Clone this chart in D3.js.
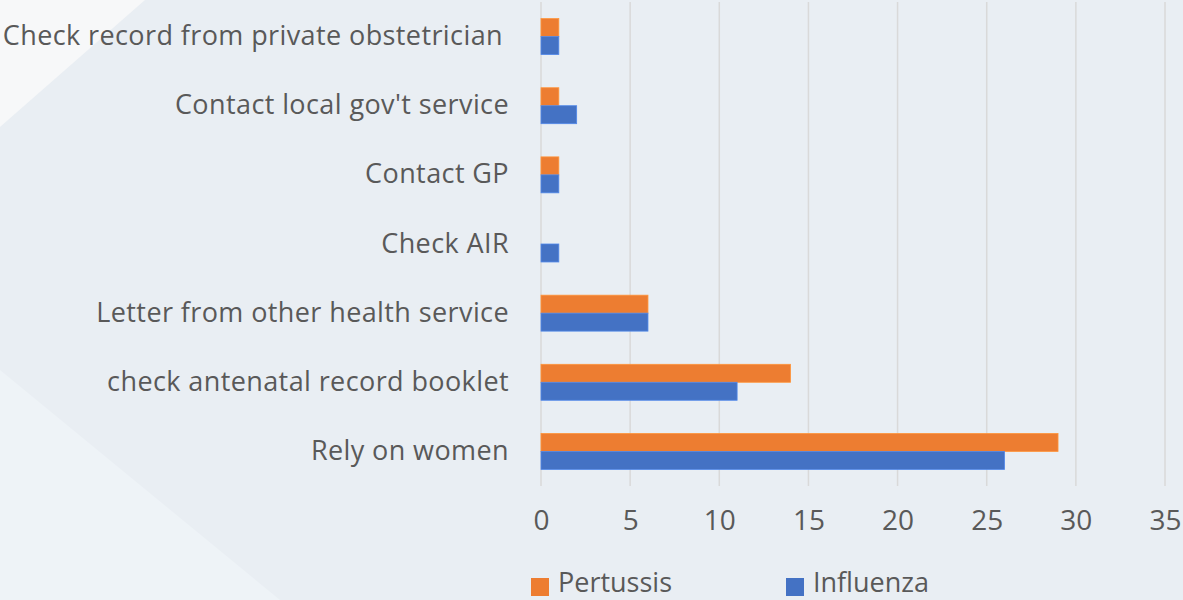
<!DOCTYPE html>
<html><head><meta charset="utf-8">
<script src="https://cdn.jsdelivr.net/npm/d3@7"></script>
<style>body{margin:0;}svg{display:block;}text{font-family:"Open Sans",sans-serif;fill:#595959;}</style>
</head><body>
<svg id="c" width="1183" height="600"></svg>
<script>
const categories = ["Check record from private obstetrician","Contact local gov't service","Contact GP","Check AIR","Letter from other health service","check antenatal record booklet","Rely on women"];
const pertussis = [1,1,1,0,6,14,29];
const influenza = [1,2,1,1,6,11,26];
const seriesNames = ["Pertussis","Influenza"];
const colors = ["#ED7D31","#4472C4"];
const ticks = [0,5,10,15,20,25,30,35];

const svg = d3.select("#c");
svg.append("rect").attr("width",1183).attr("height",600).attr("fill","#e9eef3");
svg.append("path").attr("d","M0,0L145,0L0,127Z").attr("fill","#f7f8f9");
svg.append("path").attr("d","M0,370L280,600L0,600Z").attr("fill","#eef3f7");

const x = d3.scaleLinear().domain([0,35]).range([541,1165]);
const y = d3.scaleBand().domain(categories).range([2,486]).paddingInner(0.48).paddingOuter(0.24);
const y1 = d3.scaleBand().domain(seriesNames).range([0,y.bandwidth()]);

svg.append("g").selectAll("line").data(ticks).join("line")
  .attr("x1",d=>x(d)).attr("x2",d=>x(d)).attr("y1",2).attr("y2",486)
  .attr("stroke","#d9d9d9").attr("stroke-width",1.5);

const data = [pertussis, influenza];
data.forEach((vals,si)=>{
  svg.append("g").selectAll("rect").data(vals.map((v,i)=>({v,c:categories[i]}))).join("rect")
    .attr("x",x(0)).attr("y",d=>y(d.c)+y1(seriesNames[si]))
    .attr("width",d=>x(d.v)-x(0)).attr("height",y1.bandwidth())
    .attr("fill",colors[si]).attr("stroke",d=>d.v>0?d3.color(colors[si]).brighter(0.5):"none").attr("stroke-width",0.8);
});

const xAxis = d3.axisBottom(x).tickValues(ticks).tickSize(0).tickPadding(0);
const gx = svg.append("g").attr("transform","translate(0,510)").call(xAxis);
gx.select(".domain").remove();
gx.selectAll("text").attr("font-size",28).attr("fill","#595959").attr("font-family","Open Sans").attr("dy","0.71em");

const yAxis = d3.axisLeft(y).tickSize(0).tickPadding(0);
const gy = svg.append("g").attr("transform","translate(509,0)").call(yAxis);
gy.select(".domain").remove();
gy.selectAll("text").attr("font-size",27).attr("fill","#595959").attr("font-family","Open Sans")
  .attr("letter-spacing","0.4px").attr("dy","0.32em");
gy.selectAll("text").filter(d=>d===categories[0]).attr("dx",-6);

const leg = svg.append("g");
const legX = [531,786];
const legW = [114,116];
seriesNames.forEach((n,i)=>{
  leg.append("rect").attr("x",legX[i]).attr("y",578).attr("width",18).attr("height",18).attr("fill",colors[i]);
  leg.append("text").attr("x",legX[i]+27).attr("y",592).attr("font-size",27)
    .attr("textLength",legW[i]).attr("lengthAdjust","spacingAndGlyphs").text(n);
});
</script>
</body></html>
